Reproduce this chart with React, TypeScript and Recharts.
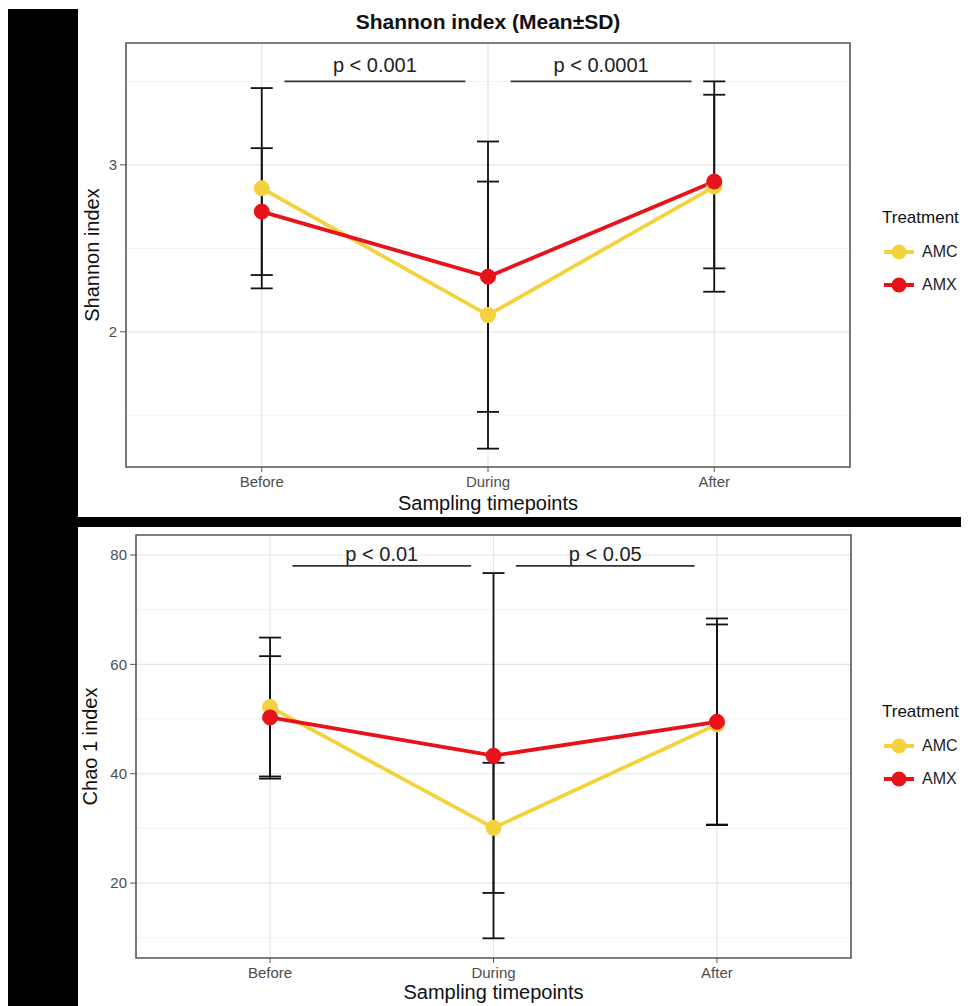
import { CartesianGrid, ComposedChart, ErrorBar, Line, ReferenceArea, ReferenceLine, XAxis, YAxis } from 'recharts';

const FONT = '"Liberation Sans", Arial, sans-serif';
const COLORS = { amc: '#F3D23D', amx: '#E8121B' };

const timepoints = ['Before', 'During', 'After'];
const positions = [1, 2, 3];

// Shannon index (mean, SD)
const shannonAmcMean = [2.86, 2.1, 2.87];
const shannonAmcSd = [0.6, 0.8, 0.63];
const shannonAmxMean = [2.72, 2.33, 2.9];
const shannonAmxSd = [0.38, 0.81, 0.52];
const shannonTicks = [2, 3];
const shannonMinor = [1.5, 2.5, 3.5];
const shannonDomain = [1.19, 3.73];

// Chao 1 index (mean, SD)
const chaoAmcMean = [52.2, 30.1, 49.0];
const chaoAmcSd = [12.7, 11.9, 18.3];
const chaoAmxMean = [50.3, 43.3, 49.5];
const chaoAmxSd = [11.2, 33.4, 18.9];
const chaoTicks = [20, 40, 60, 80];
const chaoMinor = [10, 30, 50, 70];
const chaoDomain = [6.3, 83.66];

// significance brackets
const sigStart = [1.1, 2.1];
const sigEnd = [1.9, 2.9];
const shannonSigLabels = ['p < 0.001', 'p < 0.0001'];
const shannonSigY = 3.5;
const chaoSigLabels = ['p < 0.01', 'p < 0.05'];
const chaoSigY = 78;

const buildRows = (amc: number[], amcSd: number[], amx: number[], amxSd: number[]) =>
  positions.map((x, i) => ({ x, amc: amc[i], amcSd: amcSd[i], amx: amx[i], amxSd: amxSd[i] }));

const YTitle = ({ viewBox, value, px }: any) => (
  <text
    transform={`translate(${px},${viewBox.y + viewBox.height / 2}) rotate(-90)`}
    textAnchor="middle"
    dominantBaseline="central"
    fontSize={20}
    fill="#111"
  >
    {value}
  </text>
);

interface PanelProps {
  rows: ReturnType<typeof buildRows>;
  domain: number[];
  ticks: number[];
  minor: number[];
  sigLabels: string[];
  sigY: number;
  sigOffset: number;
  yTitle: string;
  yTitleX: number;
  height: number;
  yWidth: number;
  xHeight: number;
  margin: { top: number; right: number; left: number; bottom: number };
}

const Panel = ({ rows, domain, ticks, minor, sigLabels, sigY, sigOffset, yTitle, yTitleX, height, yWidth, xHeight, margin }: PanelProps) => (
  <ComposedChart width={891} height={height} data={rows} margin={margin}>
    <CartesianGrid stroke="#F3F3F3" strokeWidth={1} vertical={false} horizontalValues={minor} />
    <CartesianGrid stroke="#E6E6E6" strokeWidth={1.2} horizontalValues={ticks} verticalValues={positions} />
    <XAxis
      dataKey="x"
      type="number"
      domain={[0.4, 3.6]}
      allowDataOverflow
      ticks={positions}
      interval={0}
      tickFormatter={(v: number) => timepoints[v - 1]}
      tick={{ fill: '#4D4D4D', fontSize: 15 }}
      tickLine={{ stroke: '#555' }}
      tickSize={5}
      tickMargin={4}
      axisLine={false}
      height={xHeight}
      label={{ value: 'Sampling timepoints', position: 'insideBottom', offset: 7, fontSize: 20, fill: '#111' }}
    />
    <YAxis
      type="number"
      domain={domain}
      allowDataOverflow
      ticks={ticks}
      tick={{ fill: '#4D4D4D', fontSize: 15 }}
      tickLine={{ stroke: '#555' }}
      tickSize={6}
      tickMargin={3}
      axisLine={false}
      width={yWidth}
      label={<YTitle value={yTitle} px={yTitleX} />}
    />
    <ReferenceArea x1={0.4} x2={3.6} y1={domain[0]} y2={domain[1]} fill="none" stroke="#555" strokeWidth={1.6} fillOpacity={0} />
    {sigLabels.map((label, i) => (
      <ReferenceLine
        key={label}
        segment={[{ x: sigStart[i], y: sigY }, { x: sigEnd[i], y: sigY }]}
        stroke="#333"
        strokeWidth={1.8}
        label={{ value: label, position: 'top', offset: sigOffset, fontSize: 20, fill: '#222' }}
      />
    ))}
    <Line
      dataKey="amc"
      type="linear"
      stroke={COLORS.amc}
      strokeWidth={3.8}
      dot={{ r: 7.5, fill: COLORS.amc, stroke: COLORS.amc, strokeWidth: 1 }}
      activeDot={false}
      isAnimationActive={false}
    >
      <ErrorBar dataKey="amcSd" direction="y" width={11} stroke="#111" strokeWidth={1.8} isAnimationActive={false} />
    </Line>
    <Line
      dataKey="amx"
      type="linear"
      stroke={COLORS.amx}
      strokeWidth={3.8}
      dot={{ r: 7.5, fill: COLORS.amx, stroke: COLORS.amx, strokeWidth: 1 }}
      activeDot={false}
      isAnimationActive={false}
    >
      <ErrorBar dataKey="amxSd" direction="y" width={11} stroke="#111" strokeWidth={1.8} isAnimationActive={false} />
    </Line>
  </ComposedChart>
);

const LegendBlock = ({ top }: { top: number }) => (
  <div style={{ position: 'absolute', left: 874, top, width: 80 }}>
    <div style={{ position: 'absolute', left: 0, top: 0, fontSize: 17, lineHeight: '24px', color: '#111', whiteSpace: 'nowrap' }}>
      Treatment
    </div>
    {[
      { name: 'AMC', color: COLORS.amc },
      { name: 'AMX', color: COLORS.amx },
    ].map((item, i) => (
      <div key={item.name} style={{ position: 'absolute', left: 1, top: 34 + i * 33, height: 24, display: 'flex', alignItems: 'center' }}>
        <svg width={32} height={24}>
          <line x1={1} y1={12} x2={31} y2={12} stroke={item.color} strokeWidth={4} />
          <circle cx={16} cy={12} r={7.5} fill={item.color} />
        </svg>
        <span style={{ marginLeft: 7, fontSize: 16, color: '#222' }}>{item.name}</span>
      </div>
    ))}
  </div>
);

export default function App() {
  const shannonRows = buildRows(shannonAmcMean, shannonAmcSd, shannonAmxMean, shannonAmxSd);
  const chaoRows = buildRows(chaoAmcMean, chaoAmcSd, chaoAmxMean, chaoAmxSd);

  return (
    <div style={{ position: 'relative', width: 961, height: 998, background: '#fff', fontFamily: FONT }}>
      <style>{'html, body { overflow: hidden; }'}</style>
      <div style={{ position: 'absolute', left: 0, top: 1, width: 70, height: 997, background: '#000' }} />
      <div style={{ position: 'absolute', left: 70, top: 509, width: 891, height: 10, background: '#000' }} />

      <div
        style={{
          position: 'absolute',
          left: 280,
          top: 2,
          width: 400,
          textAlign: 'center',
          fontSize: 21,
          lineHeight: '24px',
          fontWeight: 'bold',
          color: '#111',
        }}
      >
        Shannon index (Mean±SD)
      </div>

      <div style={{ position: 'absolute', left: 70, top: 1 }}>
        <Panel
          rows={shannonRows}
          domain={shannonDomain}
          ticks={shannonTicks}
          minor={shannonMinor}
          sigLabels={shannonSigLabels}
          sigY={shannonSigY}
          sigOffset={9}
          yTitle="Shannon index"
          yTitleX={14}
          height={508}
          yWidth={48}
          xHeight={50}
          margin={{ top: 34, right: 119, left: 0, bottom: 0 }}
        />
      </div>
      <LegendBlock top={198} />

      <div style={{ position: 'absolute', left: 70, top: 519 }}>
        <Panel
          rows={chaoRows}
          domain={chaoDomain}
          ticks={chaoTicks}
          minor={chaoMinor}
          sigLabels={chaoSigLabels}
          sigY={chaoSigY}
          sigOffset={5}
          yTitle="Chao 1 index"
          yTitleX={12}
          height={479}
          yWidth={58}
          xHeight={48}
          margin={{ top: 8, right: 118, left: 0, bottom: 0 }}
        />
      </div>
      <LegendBlock top={692} />
    </div>
  );
}
